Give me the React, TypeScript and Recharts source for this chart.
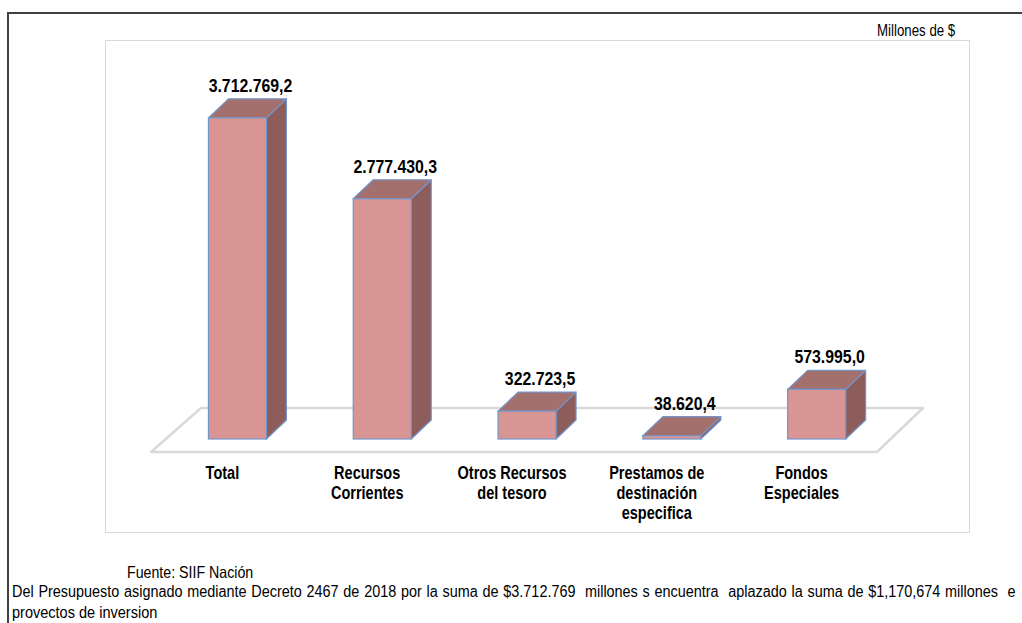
import { BarChart, Bar, XAxis, YAxis, LabelList, ReferenceArea } from 'recharts';

// categories (line breaks as in the original axis labels)
const categories = [
  'Total',
  'Recursos\nCorrientes',
  'Otros Recursos\ndel tesoro',
  'Prestamos de\ndestinación\nespecifica',
  'Fondos\nEspeciales',
];

// Millones de $
const values = [3712769.2, 2777430.3, 322723.5, 38620.4, 573995.0];

const unitLabel = 'Millones de $';
const sourceNote = 'Fuente:  SIIF Nación';
const footLine1 =
  'Del Presupuesto asignado mediante Decreto 2467 de 2018 por la suma de $3.712.769  millones s encuentra  aplazado la suma de $1,170,674 millones  e';
const footLine2 = 'provectos de inversion';

const data = categories.map((name, i) => ({ name, value: values[i] }));

// no Arial Narrow here, so regular Liberation Sans squeezed horizontally
const FONT = "'Liberation Sans', Arial, sans-serif";

const FRONT = '#D99594';
const TOP = '#A3706D';
const SIDE = '#8C5D5B';
const EDGE = '#7395CB';
const DX = 20;
const DY = 19;

// 3.712.769,2 style
const fmt = (v: number) => {
  const [int, dec] = v.toFixed(1).split('.');
  return int.replace(/\B(?=(\d{3})+(?!\d))/g, '.') + ',' + dec;
};

const Box3D = (props: any) => {
  const { x, y, width, height } = props;
  const b = y + height;
  return (
    <g>
      <polygon
        points={`${x + width},${y} ${x + width + DX},${y - DY} ${x + width + DX},${b - DY} ${x + width},${b}`}
        fill={SIDE}
        stroke={EDGE}
        strokeWidth={1.2}
        strokeLinejoin="round"
      />
      <polygon
        points={`${x},${y} ${x + DX},${y - DY} ${x + width + DX},${y - DY} ${x + width},${y}`}
        fill={TOP}
        stroke={EDGE}
        strokeWidth={1.2}
        strokeLinejoin="round"
      />
      <rect x={x} y={y} width={width} height={Math.max(height, 1)} fill={FRONT} stroke={EDGE} strokeWidth={1.2} />
    </g>
  );
};

const Floor = (props: any) => {
  const { x, y, width } = props;
  const pts = [
    [x - 14, y + 13],
    [x + width - 12, y + 13],
    [x + width + 34, y - 31],
    [x + 36, y - 31],
  ]
    .map((p) => p.join(','))
    .join(' ');
  return <polygon points={pts} fill="#fff" stroke="#D9D9D9" strokeWidth={2.5} strokeLinejoin="round" />;
};

const CategoryTick = (props: any) => {
  const { x, y, payload } = props;
  const lines = String(payload.value).split('\n');
  return (
    <g transform={`translate(${x - 15},${y + 40}) scale(0.83,1)`}>
      <text x={0} y={0} textAnchor="middle" fill="#000" fontFamily={FONT} fontWeight="bold" fontSize={17.5}>
        {lines.map((l, i) => (
          <tspan key={i} x={0} dy={i === 0 ? 0 : 20}>
            {l}
          </tspan>
        ))}
      </text>
    </g>
  );
};

const ValueLabel = (props: any) => {
  const { x, y, width, value } = props;
  return (
    <g transform={`translate(${x + width / 2 + 13},${y - 26}) scale(0.88,1)`}>
      <text x={0} y={0} textAnchor="middle" fill="#000" fontFamily={FONT} fontWeight="bold" fontSize={18}>
        {fmt(value)}
      </text>
    </g>
  );
};

const squeeze = (s: number): any => ({ transform: `scaleX(${s})`, transformOrigin: 'left top' });

export default function App() {
  return (
    <div
      style={{
        position: 'absolute',
        left: 0,
        top: 0,
        width: 1022,
        height: 623,
        overflow: 'hidden',
        background: '#fff',
        fontFamily: FONT,
        color: '#000',
      }}
    >
      <div
        style={{
          position: 'absolute',
          left: 7,
          top: 12,
          width: 1100,
          height: 700,
          border: '2px solid #404040',
        }}
      />
      <div style={{ position: 'absolute', left: 877, top: 22, fontSize: 16, whiteSpace: 'nowrap', ...squeeze(0.83) }}>
        {unitLabel}
      </div>
      <div
        style={{
          position: 'absolute',
          left: 105,
          top: 40,
          width: 865,
          height: 493,
          border: '1px solid #D9D9D9',
          boxSizing: 'border-box',
        }}
      >
        <BarChart
          width={863}
          height={491}
          data={data}
          margin={{ top: 52, right: 80, left: 59, bottom: 0 }}
          barCategoryGap="30%"
        >
          <XAxis
            dataKey="name"
            axisLine={false}
            tickLine={false}
            tickSize={0}
            tickMargin={0}
            height={93}
            interval={0}
            tick={<CategoryTick />}
          />
          <YAxis hide domain={[0, 4000000]} />
          <ReferenceArea
            x1={categories[0]}
            x2={categories[categories.length - 1]}
            y1={0}
            y2={0}
            ifOverflow="visible"
            shape={<Floor />}
          />
          <Bar dataKey="value" shape={<Box3D />} isAnimationActive={false}>
            <LabelList dataKey="value" content={<ValueLabel />} />
          </Bar>
        </BarChart>
      </div>
      <div style={{ position: 'absolute', left: 127, top: 563, fontSize: 16.5, whiteSpace: 'nowrap', ...squeeze(0.86) }}>
        {sourceNote}
      </div>
      <div
        style={{
          position: 'absolute',
          left: 12,
          top: 583,
          width: 1115,
          fontSize: 16,
          whiteSpace: 'pre',
          textAlignLast: 'justify',
          textAlign: 'justify',
          ...squeeze(0.9),
        }}
      >
        {footLine1}
      </div>
      <div style={{ position: 'absolute', left: 12, top: 603, fontSize: 16.5, whiteSpace: 'nowrap', ...squeeze(0.88) }}>
        {footLine2}
      </div>
    </div>
  );
}
